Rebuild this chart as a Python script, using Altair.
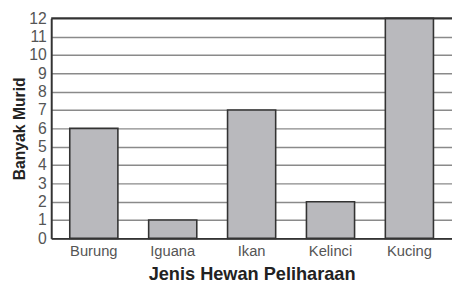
import altair as alt
import pandas as pd

categories = ["Burung", "Iguana", "Ikan", "Kelinci", "Kucing"]
counts = [6, 1, 7, 2, 12]
y_ticks = list(range(0, 13))

df = pd.DataFrame({"hewan": categories, "murid": counts})

FONT = "Liberation Sans"

x_enc = alt.X(
    "hewan:N",
    sort=categories,
    title="Jenis Hewan Peliharaan",
    scale=alt.Scale(paddingInner=0.39, paddingOuter=0.235),
    axis=alt.Axis(
        labelAngle=0,
        labelFont=FONT,
        labelFontSize=15,
        labelColor="#555555",
        labelPadding=5,
        ticks=False,
        domainColor="#333333",
        domainWidth=2,
        titleFont=FONT,
        titleFontSize=18.5,
        titleFontWeight="bold",
        titleColor="#222222",
        titlePadding=7,
    ),
)
y_scale = alt.Scale(domain=[0, 12], nice=False)
y_axis = alt.Axis(
    values=y_ticks,
    labelFont=FONT,
    labelFontSize=16,
    labelColor="#555555",
    labelPadding=5,
    ticks=False,
    domainColor="#333333",
    domainWidth=2,
    grid=True,
    gridColor="#8a8a8a",
    gridWidth=1.5,
    titleFont=FONT,
    titleFontSize=16,
    titleFontWeight="bold",
    titleColor="#222222",
    titlePadding=1,
)

bars = alt.Chart(df).mark_bar(
    color="#b9b9bd", stroke="#333333", strokeWidth=1.6
).encode(x=x_enc, y=alt.Y("murid:Q", title="Banyak Murid", scale=y_scale, axis=y_axis))

top = alt.Chart(pd.DataFrame({"v": [12]})).mark_rule(
    color="#333333", strokeWidth=2
).encode(y=alt.Y("v:Q", title="Banyak Murid", scale=y_scale, axis=y_axis))

chart = (
    alt.layer(bars, top)
    .properties(
        width=408,
        height=224,
        autosize=alt.AutoSizeParams(type="none"),
        padding={"left": 44, "top": 8, "right": 0, "bottom": 50},
    )
    .configure_view(stroke=None)
    .configure(background="white")
)

chart.save("out.html", embed_options={"renderer": "svg", "actions": False})
